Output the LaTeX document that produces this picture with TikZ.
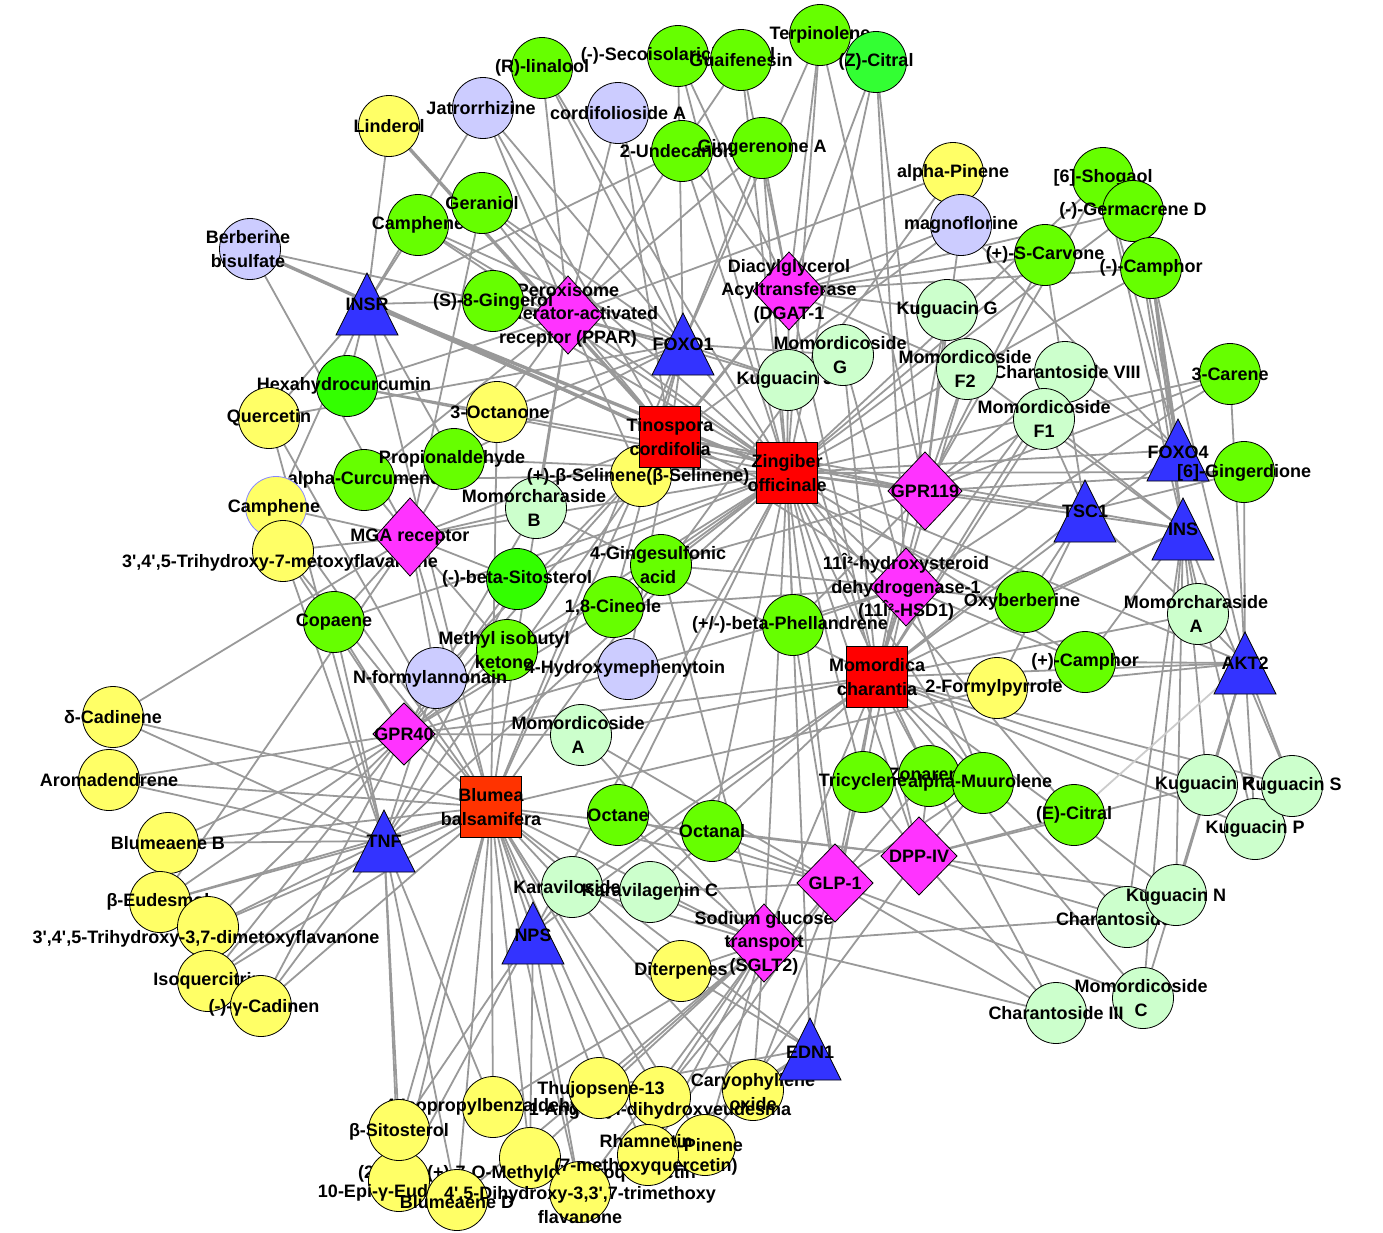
\documentclass[tikz,border=0pt]{standalone}
\usepackage{fontspec}
\setmainfont{Liberation Sans}[Ligatures=TeXOff]
\definecolor{cyel}{HTML}{FFFF66}
\definecolor{cgrn}{HTML}{66FF00}
\definecolor{cgrnb}{HTML}{33FF00}
\definecolor{cgrnc}{HTML}{33FF33}
\definecolor{clav}{HTML}{CCCCFF}
\definecolor{clg}{HTML}{CCFFCC}
\definecolor{cred}{HTML}{FF0000}
\definecolor{corg}{HTML}{FF3300}
\definecolor{cmag}{HTML}{FF33FF}
\definecolor{cblu}{HTML}{3333FF}
\definecolor{cedge}{HTML}{999999}
\definecolor{cedgel}{HTML}{CCCCCC}
\definecolor{cbor}{HTML}{8888FF}
\tikzset{
 edge/.style={draw=cedge, line width=1.8pt},
 thickedge/.style={draw=cedge, line width=3.4pt},
 lightedge/.style={draw=cedgel, line width=1.8pt},
 cmp/.style={circle, draw=black, line width=0.8pt, minimum size=61pt, inner sep=0pt},
 sq/.style={rectangle, draw=black, line width=0.8pt, minimum size=61pt, inner sep=0pt},
 lbl/.style={font=\fontsize{18}{23.5}\selectfont\bfseries, align=center, inner sep=0pt, text=black},
 dia/.style={draw=black, line width=0.8pt, fill=cmag},
 tri/.style={draw=black, line width=0.8pt, fill=cblu},
}
\newcommand\cmpnode[5]{\node[cmp,#2] at (#1) {}; \node[lbl,xshift=#4pt,yshift=#5pt] at (#1) {#3};}
\newcommand\plantnode[3]{\node[sq,fill=#2] at (#1) {}; \node[lbl] at (#1) {#3};}
\newcommand\dianode[4]{\filldraw[dia] (#1) ++(-#2,0) -- ++(#2,-#3) -- ++(#2,#3) -- ++(-#2,#3) -- cycle; \node[lbl] at (#1) {#4};}
\newcommand\trinode[3]{\filldraw[tri] (#1) ++(-31,31) -- ++(62,0) -- ++(-31,-62) -- cycle; \node[lbl,yshift=#3pt] at (#1) {#2};}
\begin{document}
\begin{tikzpicture}[x=1pt,y=-1pt]
\fill[white] (0,0) rectangle (1383,1232);
\useasboundingbox (0,0) rectangle (1383,1232);
% plants
\coordinate (tin) at (670,437);
\coordinate (zin) at (787,473);
\coordinate (mom) at (877,677);
\coordinate (blu) at (491,807);
% triangles
\coordinate (insr) at (367,304);
\coordinate (foxo1) at (683,344);
\coordinate (foxo4) at (1178,450);
\coordinate (tsc1) at (1085,511);
\coordinate (ins) at (1183,529);
\coordinate (akt2) at (1245,663);
\coordinate (tnf) at (384,841);
\coordinate (nps) at (533,933);
\coordinate (edn1) at (810,1049);
% diamonds
\coordinate (ppar) at (568,315);
\coordinate (dgat) at (789,291);
\coordinate (gpr119) at (925,491);
\coordinate (hsd) at (906,587);
\coordinate (mga) at (410,537);
\coordinate (gpr40) at (404,734);
\coordinate (sglt) at (764,943);
\coordinate (glp) at (835,883);
\coordinate (dpp) at (919,856);
% compounds
\coordinate (lind) at (389,126);
\coordinate (jatr) at (483,108);
\coordinate (rlin) at (542,68);
\coordinate (seco) at (678,56);
\coordinate (cord) at (618,113);
\coordinate (undec) at (682,151);
\coordinate (ginA) at (762,148);
\coordinate (guai) at (741,60);
\coordinate (terp) at (820,35);
\coordinate (zcit) at (876,62);
\coordinate (apin) at (953,173);
\coordinate (magn) at (961,225);
\coordinate (shog) at (1103,178);
\coordinate (germ) at (1133,211);
\coordinate (carv) at (1045,255);
\coordinate (mcam) at (1151,268);
\coordinate (kugG) at (947,310);
\coordinate (momG) at (843,355);
\coordinate (kugJ) at (788,380);
\coordinate (momF2) at (967,369);
\coordinate (ch8) at (1065,372);
\coordinate (momF1) at (1044,419);
\coordinate (car3) at (1230,374);
\coordinate (ging) at (1244,472);
\coordinate (camg) at (418,225);
\coordinate (gera) at (482,203);
\coordinate (berb) at (250,249);
\coordinate (s8g) at (493,301);
\coordinate (hexa) at (347,386);
\coordinate (quer) at (269,418);
\coordinate (oct3) at (497,412);
\coordinate (prop) at (454,459);
\coordinate (acur) at (364,480);
\coordinate (sel) at (641,476);
\coordinate (mcB) at (536,508);
\coordinate (camy) at (276,507);
\coordinate (tri7) at (283,551);
\coordinate (gsulf) at (661,565);
\coordinate (bsit) at (517,579);
\coordinate (oxyb) at (1025,602);
\coordinate (mcA) at (1198,614);
\coordinate (copa) at (334,622);
\coordinate (cine) at (613,607);
\coordinate (phel) at (793,625);
\coordinate (mibk) at (507,650);
\coordinate (nfor) at (436,678);
\coordinate (hmep) at (628,669);
\coordinate (pcam) at (1085,662);
\coordinate (form) at (997,688);
\coordinate (dcad) at (113,717);
\coordinate (momA) at (581,735);
\coordinate (arom) at (109,780);
\coordinate (tric) at (863,782);
\coordinate (zona) at (929,776);
\coordinate (muur) at (983,783);
\coordinate (octe) at (618,815);
\coordinate (octa) at (712,831);
\coordinate (ecit) at (1074,815);
\coordinate (kugR) at (1207,785);
\coordinate (kugS) at (1292,786);
\coordinate (kugP) at (1255,829);
\coordinate (blmB) at (168,843);
\coordinate (beud) at (160,902);
\coordinate (kara) at (572,887);
\coordinate (karg) at (650,892);
\coordinate (kugN) at (1176,895);
\coordinate (ch2) at (1127,917);
\coordinate (tri37) at (208,927);
\coordinate (isoq) at (208,981);
\coordinate (gcad) at (261,1006);
\coordinate (dite) at (681,971);
\coordinate (momC) at (1143,998);
\coordinate (ch3) at (1056,1013);
\coordinate (cary) at (753,1090);
\coordinate (ipb) at (493,1107);
\coordinate (thuj) at (599,1088);
\coordinate (ang) at (660,1097);
\coordinate (bsito) at (399,1130);
\coordinate (rham) at (648,1155);
\coordinate (bpin) at (705,1145);
\coordinate (r3r) at (530,1158);
\coordinate (epi) at (399,1181);
\coordinate (blmD) at (457,1200);
\coordinate (dihy) at (580,1192);
% ---------- edges
\foreach \a/\b in {lind/insr, jatr/tin, jatr/insr, jatr/foxo1, jatr/ppar,
rlin/zin, rlin/ppar, rlin/foxo1, seco/zin, seco/dgat, seco/foxo1,
cord/tin, cord/foxo1, cord/ppar, undec/zin, undec/dgat, undec/insr,
ginA/zin, ginA/ppar, ginA/dgat, ginA/foxo1, guai/zin, guai/dgat, guai/ppar,
terp/zin, terp/dgat, terp/foxo1, terp/gpr119, zcit/zin, zcit/dgat, zcit/gpr119, zcit/hsd,
apin/blu, apin/ppar, magn/tin, magn/dgat, magn/gpr119, magn/foxo4,
shog/zin, shog/foxo4, shog/ins, shog/gpr119, germ/zin, germ/foxo4, germ/ins, germ/dgat,
carv/zin, carv/dgat, carv/gpr119, carv/tsc1, mcam/zin, mcam/ins, mcam/akt2, mcam/dgat,
kugG/mom, kugG/dgat, kugG/gpr119, momG/mom, momG/foxo1, momG/hsd,
kugJ/mom, kugJ/ppar, kugJ/foxo1, momF2/mom, momF2/gpr119, momF2/ins, momF2/dgat,
ch8/mom, ch8/gpr119, ch8/foxo4, ch8/hsd, momF1/mom, momF1/ins, momF1/gpr119, momF1/tsc1,
car3/zin, car3/akt2, car3/gpr119, car3/hsd, ging/zin, ging/akt2, ging/tsc1, ging/gpr119,
camg/zin, camg/insr, camg/ppar, camg/foxo1, gera/zin, gera/ppar, gera/foxo1, gera/mga,
berb/mga, berb/foxo1, s8g/zin, s8g/ppar, s8g/insr, s8g/foxo1,
hexa/zin, hexa/insr, hexa/ppar, hexa/gpr119, quer/blu, quer/insr, quer/foxo1, quer/tnf,
oct3/blu, oct3/ppar, oct3/foxo1, prop/zin, prop/mga, prop/insr, prop/foxo1,
acur/zin, acur/mga, acur/ppar, sel/blu, sel/ppar, sel/foxo1, sel/dgat,
mcB/mom, mcB/mga, mcB/ppar, mcB/gpr40, camy/blu, camy/mga, camy/insr,
tri7/blu, tri7/mga, tri7/tnf, tri7/gpr40, gsulf/zin, gsulf/hsd, gsulf/gpr119, gsulf/sglt,
bsit/zin, bsit/mga, bsit/gpr40, bsit/tnf, oxyb/tin, oxyb/hsd, oxyb/ins, oxyb/tsc1,
mcA/mom, mcA/ins, mcA/akt2, mcA/tsc1, copa/zin, copa/mga, copa/tnf, copa/gpr40,
cine/zin, cine/gpr40, cine/foxo1, cine/hsd, phel/zin, phel/hsd, phel/gpr119, phel/glp,
mibk/zin, mibk/gpr40, mibk/mga, nfor/tin, nfor/gpr40, nfor/tnf, nfor/mga,
hmep/tin, hmep/gpr40, hmep/hsd, pcam/zin, pcam/akt2, pcam/ins, pcam/hsd,
form/blu, form/akt2, form/tsc1, dcad/blu, dcad/mga, dcad/tnf,
momA/mom, momA/gpr40, momA/sglt, momA/glp, arom/blu, arom/tnf, arom/gpr40,
tric/zin, tric/glp, tric/dpp, tric/hsd, zona/zin, zona/glp, zona/dpp,
muur/zin, muur/dpp, muur/glp, muur/hsd, octe/zin, octe/sglt, octe/glp,
octa/zin, octa/dpp, octa/glp, ecit/zin, ecit/dpp,
kugR/mom, kugR/ins, kugR/akt2, kugR/dpp, kugS/mom, kugS/ins, kugS/akt2,
kugP/mom, kugP/akt2, kugP/ins, blmB/blu, blmB/tnf, blmB/gpr40,
beud/blu, beud/tnf, beud/gpr40, beud/mga, kara/mom, kara/sglt, kara/nps,
karg/mom, karg/sglt, karg/glp, kugN/mom, kugN/ins, kugN/akt2, kugN/dpp,
ch2/mom, ch2/sglt, ch2/dpp, ch2/ins, tri37/blu, tri37/tnf, tri37/gpr40,
isoq/blu, isoq/tnf, isoq/gpr40, gcad/blu, gcad/tnf, gcad/gpr40,
dite/blu, dite/sglt, dite/edn1, momC/mom, momC/akt2, momC/glp, momC/ins,
ch3/mom, ch3/sglt, ch3/dpp, ch3/glp, cary/blu, cary/edn1, cary/sglt, cary/glp,
ipb/blu, ipb/tnf, ipb/sglt, thuj/blu, thuj/sglt, thuj/edn1, ang/blu, ang/sglt, ang/glp,
bsito/blu, bsito/tnf, bsito/nps, rham/blu, rham/sglt, rham/edn1, rham/glp,
bpin/blu, bpin/sglt, bpin/dpp, r3r/blu, r3r/nps, r3r/sglt,
epi/blu, epi/tnf, epi/nps, blmD/blu, blmD/tnf, blmD/sglt, dihy/blu, dihy/sglt, dihy/nps,
zin/ppar, zin/dgat, zin/foxo1, zin/foxo4, zin/gpr119, zin/tsc1, zin/ins, zin/akt2, zin/hsd,
zin/mga, zin/gpr40, zin/tnf, zin/sglt, zin/glp, zin/dpp, zin/nps, zin/edn1,
tin/insr, tin/ppar, tin/foxo1, tin/dgat, tin/gpr119, tin/mga, tin/gpr40, tin/tnf, tin/hsd, tin/ins,
mom/dgat, mom/gpr119, mom/hsd, mom/ins, mom/akt2, mom/tsc1, mom/foxo4, mom/sglt, mom/glp,
mom/dpp, mom/edn1, mom/nps, mom/gpr40,
blu/tnf, blu/gpr40, blu/mga, blu/nps, blu/sglt, blu/edn1, blu/ppar, blu/insr, blu/glp, blu/dpp, blu/foxo1}
  \draw[edge] (\a) -- (\b);
\foreach \a/\b in {berb/tin, lind/tin, insr/zin, mcam/foxo4}
  \draw[thickedge] (\a) -- (\b);
\draw[lightedge] (ecit) -- (akt2);
% ---------- compound nodes
\cmpnode{berb}{fill=clav}{Berberine\\bisulfate}{-2}{0}
\cmpnode{lind}{fill=cyel}{Linderol}{0}{0}
\cmpnode{jatr}{fill=clav}{Jatrorrhizine}{-2}{0}
\cmpnode{rlin}{fill=cgrn}{(R)-linalool}{0}{0}
\cmpnode{seco}{fill=cgrn}{(-)-Secoisolariciresinol}{0}{0}
\cmpnode{guai}{fill=cgrn}{Guaifenesin}{0}{0}
\cmpnode{terp}{fill=cgrn}{Terpinolene}{0}{0}
\cmpnode{zcit}{fill=cgrnc}{(Z)-Citral}{0}{0}
\cmpnode{undec}{fill=cgrn}{2-Undecanone}{0}{0}
\cmpnode{ginA}{fill=cgrn}{Gingerenone A}{0}{0}
\cmpnode{cord}{fill=clav}{cordifolioside A}{0}{0}
\cmpnode{apin}{fill=cyel}{alpha-Pinene}{0}{0}
\cmpnode{magn}{fill=clav}{magnoflorine}{0}{0}
\cmpnode{shog}{fill=cgrn}{[6]-Shogaol}{0}{0}
\cmpnode{germ}{fill=cgrn}{(-)-Germacrene D}{0}{0}
\cmpnode{mcam}{fill=cgrn}{(-)-Camphor}{0}{0}
\cmpnode{carv}{fill=cgrn}{(+)-S-Carvone}{0}{0}
\cmpnode{kugG}{fill=clg}{Kuguacin G}{0}{0}
\cmpnode{kugJ}{fill=clg}{Kuguacin J}{-3}{0}
\cmpnode{momG}{fill=clg}{Momordicoside\\G}{-3}{0}
\cmpnode{ch8}{fill=clg}{Charantoside VIII}{2}{0}
\cmpnode{momF2}{fill=clg}{Momordicoside\\F2}{-2}{0}
\cmpnode{momF1}{fill=clg}{Momordicoside\\F1}{0}{0}
\cmpnode{car3}{fill=cgrn}{3-Carene}{0}{0}
\cmpnode{camg}{fill=cgrn}{Camphene}{0}{0}
\cmpnode{gera}{fill=cgrn}{Geraniol}{0}{0}
\cmpnode{hexa}{fill=cgrnb}{Hexahydrocurcumin}{-3}{0}
\cmpnode{quer}{fill=cyel}{Quercetin}{0}{0}
\cmpnode{oct3}{fill=cyel}{3-Octanone}{3}{0}
\cmpnode{acur}{fill=cgrn}{alpha-Curcumene}{0}{0}
\cmpnode{prop}{fill=cgrn}{Propionaldehyde}{-2}{0}
\cmpnode{camy}{fill=cyel,draw=cbor}{Camphene}{-2}{-1}
\cmpnode{tri7}{fill=cyel}{3',4',5-Trihydroxy-7-metoxyflavanone}{-3}{-12}
\cmpnode{mcB}{fill=clg}{Momorcharaside\\B}{-2}{0}
\cmpnode{sel}{fill=cyel}{(+)-β-Selinene(β-Selinene)}{-3}{-1}
\cmpnode{gsulf}{fill=cgrn}{4-Gingesulfonic\\acid}{-3}{0}
\cmpnode{cine}{fill=cgrn}{1,8-Cineole}{0}{0}
\cmpnode{bsit}{fill=cgrnb}{(-)-beta-Sitosterol}{0}{0}
\cmpnode{oxyb}{fill=cgrn}{Oxyberberine}{-3}{0}
\cmpnode{mcA}{fill=clg}{Momorcharaside\\A}{-2}{0}
\cmpnode{copa}{fill=cgrn}{Copaene}{0}{0}
\cmpnode{phel}{fill=cgrn}{(+/-)-beta-Phellandrene}{-3}{0}
\cmpnode{mibk}{fill=cgrn}{Methyl isobutyl\\ketone}{-3}{0}
\cmpnode{nfor}{fill=clav}{N-formylannonain}{-6}{-1}
\cmpnode{hmep}{fill=clav}{4-Hydroxymephenytoin}{-3}{0}
\cmpnode{pcam}{fill=cgrn}{(+)-Camphor}{0}{0}
\cmpnode{form}{fill=cyel}{2-Formylpyrrole}{-3}{0}
\cmpnode{dcad}{fill=cyel}{δ-Cadinene}{0}{0}
\cmpnode{momA}{fill=clg}{Momordicoside\\A}{-3}{0}
\cmpnode{arom}{fill=cyel}{Aromadendrene}{0}{0}
\cmpnode{zona}{fill=cgrn}{Zonarene}{0}{2}
\cmpnode{tric}{fill=cgrn}{Tricyclene}{0}{0}
\cmpnode{muur}{fill=cgrn}{alpha-Muurolene}{-3}{0}
\cmpnode{octe}{fill=cgrn}{Octane}{0}{0}
\cmpnode{octa}{fill=cgrn}{Octanal}{0}{0}
\cmpnode{ecit}{fill=cgrn}{(E)-Citral}{0}{0}
\cmpnode{kugP}{fill=clg}{Kuguacin P}{0}{0}
\cmpnode{kugR}{fill=clg}{Kuguacin R}{-2}{0}
\cmpnode{kugS}{fill=clg}{Kuguacin S}{0}{0}
\cmpnode{blmB}{fill=cyel}{Blumeaene B}{0}{0}
\cmpnode{beud}{fill=cyel}{β-Eudesmol}{-2}{0}
\cmpnode{tri37}{fill=cyel}{3',4',5-Trihydroxy-3,7-dimetoxyflavanone}{-2}{-12}
\cmpnode{isoq}{fill=cyel}{Isoquercitrin}{0}{0}
\cmpnode{gcad}{fill=cyel}{(-)-γ-Cadinen}{3}{-2}
\cmpnode{kara}{fill=clg}{Karaviloside I}{0}{0}
\cmpnode{karg}{fill=clg}{Karavilagenin C}{0}{0}
\cmpnode{ch2}{fill=clg}{Charantoside II}{-6}{-2}
\cmpnode{kugN}{fill=clg}{Kuguacin N}{0}{-2}
\cmpnode{dite}{fill=cyel}{Diterpenes}{0}{0}
\cmpnode{momC}{fill=clg}{Momordicoside\\C}{-2}{0}
\cmpnode{ch3}{fill=clg}{Charantoside III}{0}{0}
\cmpnode{ipb}{fill=cyel}{4-Isopropylbenzaldehyde}{0}{0}
\cmpnode{r3r}{fill=cyel}{(2R,3R)-(+)-7-O-Methyldihydroquercetin}{-3}{-16}
\cmpnode{epi}{fill=cyel}{10-Epi-γ-Eudesmol}{0}{-12}
\cmpnode{bsito}{fill=cyel}{β-Sitosterol}{0}{-2}
\cmpnode{blmD}{fill=cyel}{Blumeaene D}{0}{-2}
\cmpnode{dihy}{fill=cyel}{4',5-Dihydroxy-3,3',7-trimethoxy\\flavanone}{0}{-13}
\cmpnode{cary}{fill=cyel}{Caryophyllene\\oxide}{0}{-2}
\cmpnode{ang}{fill=cyel}{1-Angeloyl-dihydroxyeudesma}{0}{-14}
\cmpnode{thuj}{fill=cyel}{Thujopsene-13}{2}{-2}
\cmpnode{bpin}{fill=cyel}{β-Pinene}{0}{-2}
\cmpnode{rham}{fill=cyel}{Rhamnetin\\(7-methoxyquercetin)}{-2}{0}
% ---------- plants
\plantnode{tin}{cred}{Tinospora\\cordifolia}
\plantnode{zin}{cred}{Zingiber\\officinale}
\plantnode{mom}{cred}{Momordica\\charantia}
\plantnode{blu}{corg}{Blumea\\balsamifera}
% ---------- targets
\dianode{ppar}{35}{39}{Peroxisome\\proliferator-activated\\receptor (PPAR)}
\dianode{dgat}{36}{39}{Diacylglycerol\\Acyltransferase\\(DGAT-1}
\trinode{foxo1}{FOXO1}{0}
\trinode{insr}{INSR}{0}
\trinode{foxo4}{FOXO4}{-2}
\trinode{tsc1}{TSC1}{0}
\trinode{ins}{INS}{0}
\trinode{akt2}{AKT2}{0}
\dianode{gpr119}{37}{39}{GPR119}
\dianode{hsd}{36}{39}{11Î²-hydroxysteroid\\dehydrogenase-1\\(11Î²-HSD1)}
\dianode{mga}{35}{39}{MGA receptor}
\dianode{gpr40}{31}{31}{GPR40}
\trinode{tnf}{TNF}{0}
\trinode{nps}{NPS}{-2}
\dianode{sglt}{36}{39}{Sodium glucose\\transport\\(SGLT2)}
\dianode{glp}{38}{39}{GLP-1}
\dianode{dpp}{38}{39}{DPP-IV}
\trinode{edn1}{EDN1}{-3}
% ---------- compounds drawn over targets
\cmpnode{s8g}{fill=cgrn}{(S)-8-Gingerol}{0}{-1}
\cmpnode{ging}{fill=cgrn}{[6]-Gingerdione}{0}{-1}
\end{tikzpicture}
\end{document}
